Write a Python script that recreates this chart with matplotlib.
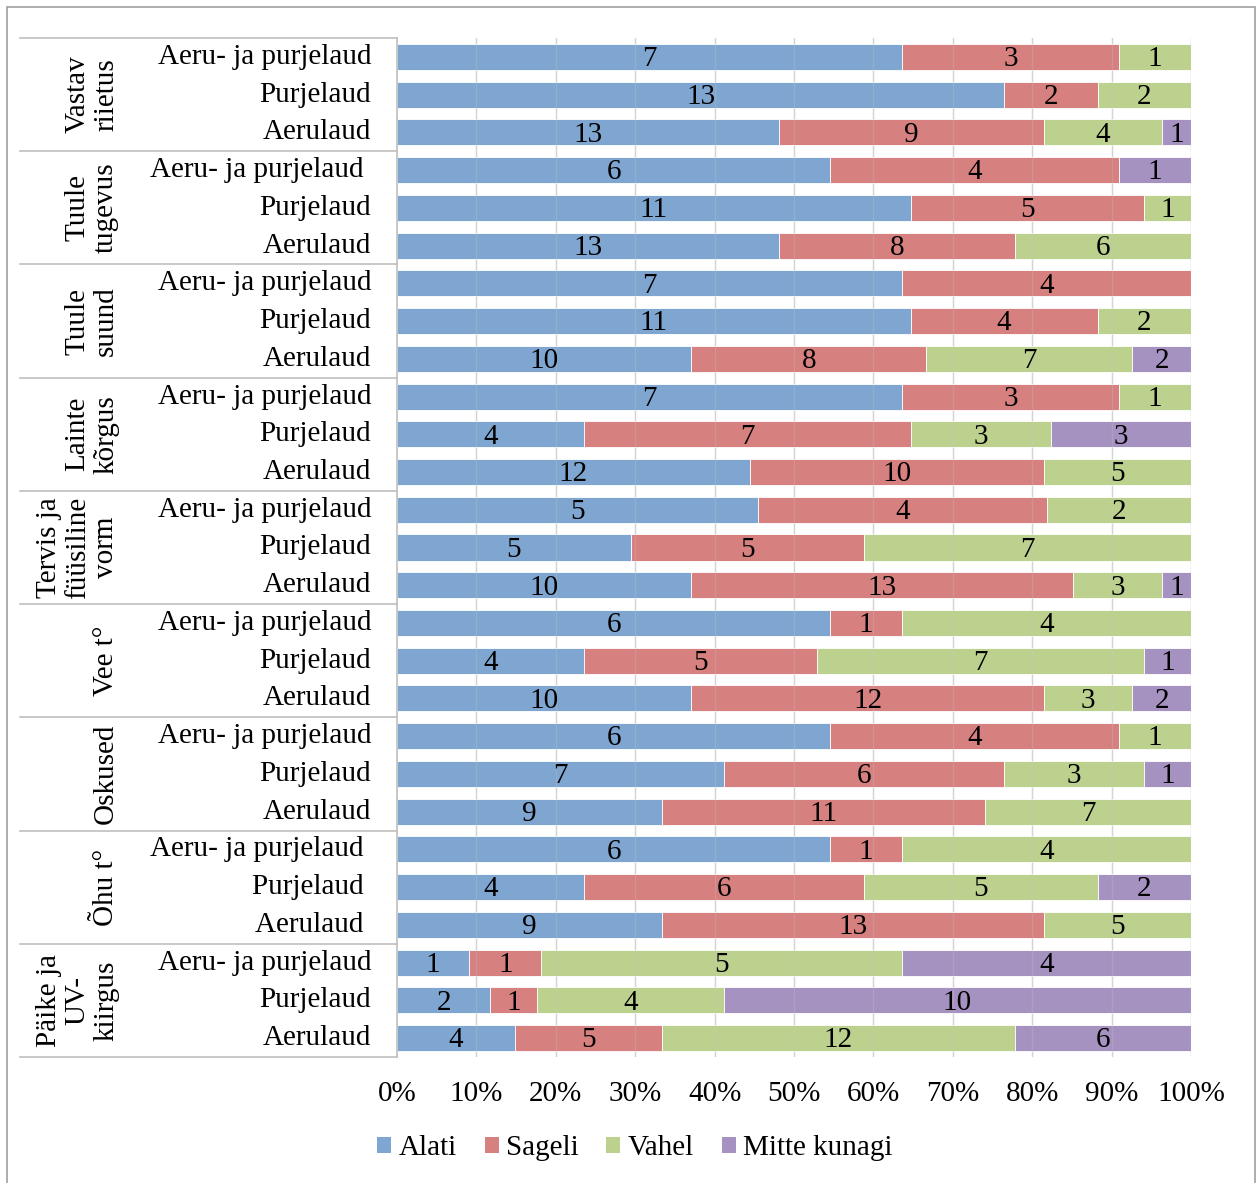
import matplotlib
matplotlib.use("Agg")
import matplotlib.pyplot as plt
import matplotlib.transforms as mtransforms
from matplotlib.patches import Patch, Rectangle
from matplotlib.lines import Line2D
import numpy as np

plt.rcParams['font.family'] = ['Liberation Serif', 'DejaVu Serif']

# Survey data: counts per answer for each factor and board type
groups = ["Vastav\nriietus", "Tuule\ntugevus", "Tuule\nsuund", "Lainte\nkõrgus",
          "Tervis ja\nfüüsiline\nvorm", "Vee t°", "Oskused", "Õhu t°",
          "Päike ja\nUV-\nkiirgus"]
boards = ["Aeru- ja purjelaud", "Purjelaud", "Aerulaud"]
series_names = ["Alati", "Sageli", "Vahel", "Mitte kunagi"]

alati = [7, 13, 13,  6, 11, 13,  7, 11, 10,  7, 4, 12,  5, 5, 10,  6, 4, 10,  6, 7, 9,  6, 4, 9,  1, 2, 4]
sageli = [3, 2, 9,   4, 5, 8,    4, 4, 8,    3, 7, 10,  4, 5, 13,  1, 5, 12,  4, 6, 11, 1, 6, 13, 1, 1, 5]
vahel = [1, 2, 4,    0, 1, 6,    0, 2, 7,    1, 3, 5,   2, 7, 3,   4, 7, 3,   1, 3, 7,  4, 5, 5,  5, 4, 12]
mitte = [0, 0, 1,    1, 0, 0,    0, 0, 2,    0, 3, 0,   0, 0, 1,   0, 1, 2,   0, 1, 0,  0, 2, 0,  4, 10, 6]

# Row labels (some carry a trailing space in the source table)
row_labels = []
for gi in range(len(groups)):
    for b in boards:
        row_labels.append(b)
row_labels[3] = "Aeru- ja purjelaud "
row_labels[21] = "Aeru- ja purjelaud "
row_labels[22] = "Purjelaud "
row_labels[23] = "Aerulaud "

colors = ["#7FA6D0", "#D6807F", "#BDD18F", "#A692C1"]

W, H = 1257, 1183
fig = plt.figure(figsize=(W / 100, H / 100), dpi=100)

ax_left, ax_right, ax_top, ax_bot = 397, 1191, 38, 1057
ax = fig.add_axes([ax_left / W, 1 - ax_bot / H, (ax_right - ax_left) / W, (ax_bot - ax_top) / H])

data = np.array([alati, sageli, vahel, mitte], dtype=float)
totals = data.sum(axis=0)
pct = data / totals * 100
n = data.shape[1]
y = np.arange(n)

fs = 21

# gridlines beneath the bars
for gx in range(10, 101, 10):
    ax.axvline(gx, color="#D9D9D9", lw=1.0, zorder=0)

left = np.zeros(n)
for si in range(4):
    ax.barh(y, pct[si], left=left, height=0.69, color=colors[si],
            edgecolor="white", linewidth=0.6, zorder=2)
    for i in range(n):
        if data[si, i] > 0:
            ax.text(left[i] + pct[si, i] / 2, y[i] + 0.06, f"{int(data[si, i])}",
                    ha="center", va="center", fontsize=fs, color="black", zorder=4)
    left += pct[si]

# faint gridlines showing through the bars
for gx in range(10, 101, 10):
    ax.axvline(gx, color="#C8C8C8", lw=1.0, alpha=0.25, zorder=3)

ax.set_xlim(0, 100)
ax.set_ylim(n - 0.5, -0.5)
ax.set_xticks(range(0, 101, 10))
ax.set_xticklabels([f"{v}%" for v in range(0, 101, 10)], fontsize=fs)
ax.tick_params(axis="x", length=0, pad=17)
ax.set_yticks([])
for s in ["top", "right", "bottom"]:
    ax.spines[s].set_visible(False)
ax.spines["left"].set_color("#BFBFBF")
ax.spines["left"].set_linewidth(1.2)

# category labels for each bar
trans_lbl = mtransforms.blended_transform_factory(fig.transFigure, ax.transData)
for i, lbl in enumerate(row_labels):
    ax.text(371 / W, y[i], lbl, transform=trans_lbl, ha="right", va="center", fontsize=fs)

# group separator lines and rotated group labels
for g in range(len(groups) + 1):
    yy = g * 3 - 0.5
    ax.add_line(Line2D([20 / W, ax_left / W], [yy, yy], transform=trans_lbl,
                       color="#BFBFBF", lw=1.2, clip_on=False))
for g, name in enumerate(groups):
    ax.text(119 / W, g * 3 + 1, name, transform=trans_lbl, rotation=90,
            ha="right", va="center", multialignment="center", fontsize=fs,
            linespacing=1.12)

# legend
handles = [Patch(facecolor=c, edgecolor="none") for c in colors]
fig.legend(handles, series_names, loc="center", bbox_to_anchor=(635 / W, 1 - 1148 / H),
           ncol=4, frameon=False, fontsize=fs, handlelength=0.48, handleheight=0.48,
           handletextpad=0.25, columnspacing=0.95)

# outer chart border
fig.patches.append(Rectangle((7 / W, -0.02), (1255 - 7) / W, (1176 + 0.02 * H) / H,
                             transform=fig.transFigure, fill=False,
                             edgecolor="#A0A0A0", lw=1.2))

fig.savefig("out.png", dpi=100)
